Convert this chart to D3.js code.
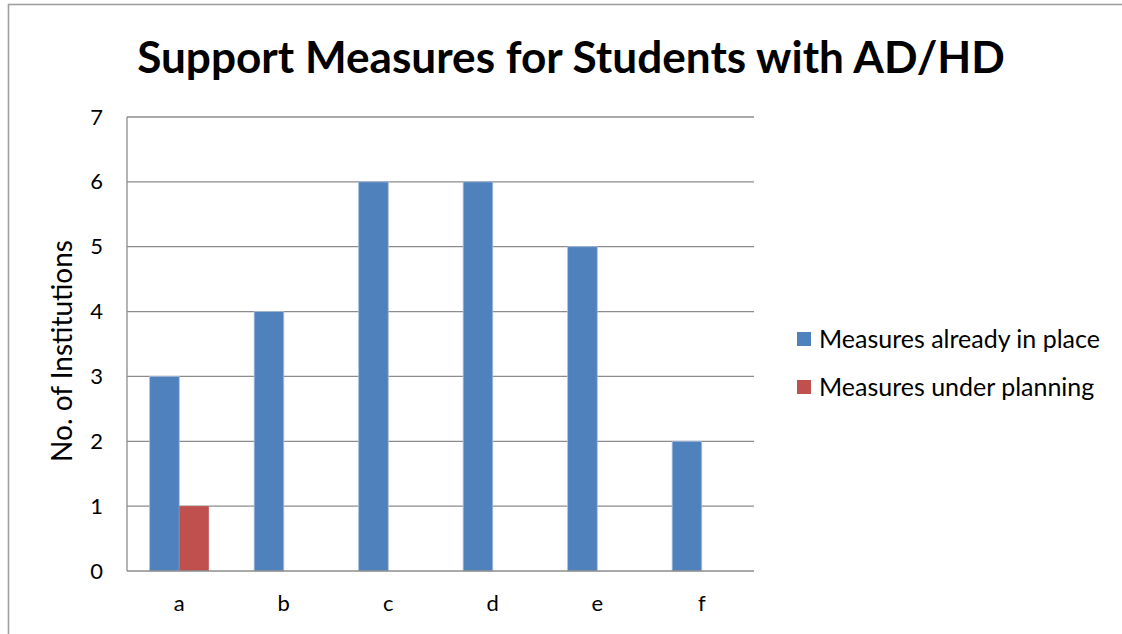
<!DOCTYPE html>
<html>
<head>
<meta charset="utf-8">
<script src="https://cdn.jsdelivr.net/npm/d3@7"></script>
<style>
  html, body { margin: 0; padding: 0; background: #fff; }
  svg { display: block; }
  text { font-family: Lato, "Open Sans", "Liberation Sans", sans-serif; fill: #000; }
</style>
</head>
<body>
<script>
// Chart data
const categories = ["a", "b", "c", "d", "e", "f"];
const inPlace = [3, 4, 6, 6, 5, 2];
const underPlanning = [1, 0, 0, 0, 0, 0];
const seriesNames = ["Measures already in place", "Measures under planning"];
const seriesColors = ["#4F81BD", "#C0504D"];
const yTicks = [0, 1, 2, 3, 4, 5, 6, 7];
const titleText = "Support Measures for Students with AD/HD";
const yTitle = "No. of Institutions";

const W = 1122, H = 634;
const plot = { left: 127, right: 754, top: 117, bottom: 571 };
const fontStack = 'Lato, "Open Sans", "Liberation Sans", sans-serif';

const svg = d3.select("body").append("svg").attr("width", W).attr("height", H);

// Scale a text's font size so that it spans the given width
function fitWidth(sel, base, width) {
  const w = sel.node().getComputedTextLength();
  sel.style("font-size", (base * width / w) + "px");
}

// Outer chart frame
svg.append("rect")
  .attr("x", 8.5).attr("y", 4.5)
  .attr("width", W + 20).attr("height", H + 20)
  .attr("fill", "none").attr("stroke", "#a0a0a0").attr("stroke-width", 1.6);

const x = d3.scaleBand().domain(categories).range([plot.left, plot.right]);
const y = d3.scaleLinear().domain([0, 7]).range([plot.bottom, plot.top]);
const barW = x.bandwidth() * 0.283;

// Gridlines
svg.append("g").selectAll("line").data(yTicks.slice(1)).join("line")
  .attr("x1", plot.left).attr("x2", plot.right)
  .attr("y1", d => y(d)).attr("y2", d => y(d))
  .attr("stroke", "#8c8c8c").attr("stroke-width", 1.3);

// Bars
const rows = categories.map((c, i) => ({ c, vals: [inPlace[i], underPlanning[i]] }));
const groups = svg.append("g").selectAll("g").data(rows).join("g");
groups.selectAll("rect")
  .data(d => d.vals.map((v, k) => ({ c: d.c, v, k })).filter(e => e.v > 0))
  .join("rect")
  .attr("x", e => x(e.c) + x.bandwidth() / 2 - barW + e.k * barW)
  .attr("width", barW)
  .attr("y", e => y(e.v))
  .attr("height", e => y(0) - y(e.v))
  .attr("fill", e => seriesColors[e.k])
  .attr("stroke", e => e.k === 0 ? "#a6bddf" : "none")
  .attr("stroke-width", 0.8);

// Axes lines
svg.append("line").attr("x1", plot.left).attr("x2", plot.left)
  .attr("y1", plot.top).attr("y2", plot.bottom)
  .attr("stroke", "#8c8c8c").attr("stroke-width", 1.3);
svg.append("line").attr("x1", plot.left).attr("x2", plot.right)
  .attr("y1", plot.bottom).attr("y2", plot.bottom)
  .attr("stroke", "#8c8c8c").attr("stroke-width", 1.6);

// Y tick labels
const yAxis = d3.axisLeft(y).tickValues(yTicks).tickFormat(d3.format("d")).tickSize(0).tickPadding(24);
const gy = svg.append("g").attr("transform", `translate(${plot.left},0)`).call(yAxis)
  .attr("font-size", 22).attr("font-family", fontStack);
gy.select(".domain").remove();
gy.selectAll("text").attr("fill", "#000");

// X tick labels
const xAxis = d3.axisBottom(x).tickSize(0).tickPadding(24);
const gx = svg.append("g").attr("transform", `translate(0,${plot.bottom})`).call(xAxis)
  .attr("font-size", 22).attr("font-family", fontStack);
gx.select(".domain").remove();
gx.selectAll("text").attr("fill", "#000");

// Title, fitted to width
const t = svg.append("text")
  .attr("x", 571).attr("y", 73)
  .attr("text-anchor", "middle")
  .style("font-weight", "bold").style("font-size", "36px")
  .text(titleText);
fitWidth(t, 36, 868);

// Y axis title
const yt = svg.append("text")
  .attr("transform", `translate(72,351) rotate(-90)`)
  .attr("text-anchor", "middle")
  .style("font-size", "24px")
  .text(yTitle);
fitWidth(yt, 24, 222);

// Legend
const legend = svg.append("g").selectAll("g").data(seriesNames).join("g")
  .attr("transform", (d, i) => `translate(797,${339 + i * 48})`);
legend.append("rect").attr("x", 0).attr("y", -7).attr("width", 14).attr("height", 14)
  .attr("fill", (d, i) => seriesColors[i]);
const lt = legend.append("text").attr("x", 22).attr("y", 0).attr("dy", "0.35em")
  .style("font-size", "21px").text(d => d);
const scaleL = 281 / lt.nodes()[0].getComputedTextLength();
lt.style("font-size", (21 * scaleL) + "px");
</script>
</body>
</html>
